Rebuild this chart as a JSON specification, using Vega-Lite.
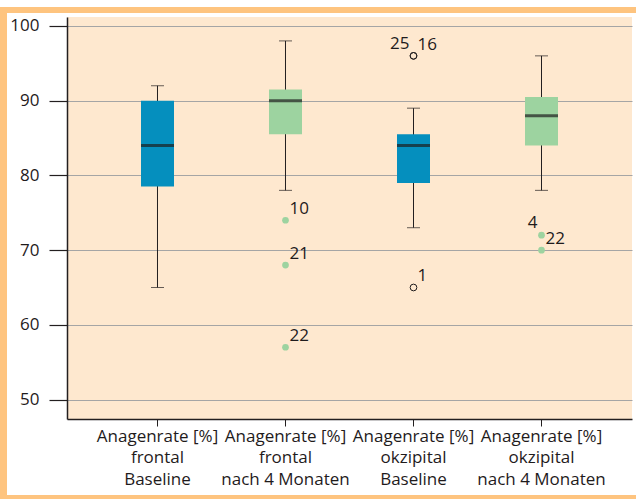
{
  "$schema": "https://vega.github.io/schema/vega-lite/v6.json",
  "background": "white",
  "padding": {"top": 7, "left": 0, "right": 0, "bottom": 0},
  "columns": 3,
  "spacing": 0,
  "bounds": "flush",
  "config": {
    "view": {"stroke": null},
    "axis": {"labelFont": "Open Sans", "labelFontSize": 17, "labelColor": "#1f1b1c"}
  },
  "datasets": {
    "boxes": [
      {"cat": "Anagenrate [%]\nfrontal\nBaseline", "zeit": "Baseline", "lo": 65, "q1": 78.5, "med": 84, "q3": 90, "hi": 92},
      {"cat": "Anagenrate [%]\nfrontal\nnach 4 Monaten", "zeit": "nach 4 Monaten", "lo": 78, "q1": 85.5, "med": 90, "q3": 91.5, "hi": 98},
      {"cat": "Anagenrate [%]\nokzipital\nBaseline", "zeit": "Baseline", "lo": 73, "q1": 79, "med": 84, "q3": 85.5, "hi": 89},
      {"cat": "Anagenrate [%]\nokzipital\nnach 4 Monaten", "zeit": "nach 4 Monaten", "lo": 78, "q1": 84, "med": 88, "q3": 90.5, "hi": 96}
    ],
    "outliers": [
      {"cat": "Anagenrate [%]\nfrontal\nnach 4 Monaten", "zeit": "nach 4 Monaten", "wert": 74, "fall": "10"},
      {"cat": "Anagenrate [%]\nfrontal\nnach 4 Monaten", "zeit": "nach 4 Monaten", "wert": 68, "fall": "21"},
      {"cat": "Anagenrate [%]\nfrontal\nnach 4 Monaten", "zeit": "nach 4 Monaten", "wert": 57, "fall": "22"},
      {"cat": "Anagenrate [%]\nokzipital\nBaseline", "zeit": "Baseline", "wert": 96, "fall": "25"},
      {"cat": "Anagenrate [%]\nokzipital\nBaseline", "zeit": "Baseline", "wert": 96, "fall": "16"},
      {"cat": "Anagenrate [%]\nokzipital\nBaseline", "zeit": "Baseline", "wert": 65, "fall": "1"},
      {"cat": "Anagenrate [%]\nokzipital\nnach 4 Monaten", "zeit": "nach 4 Monaten", "wert": 72, "fall": "4"},
      {"cat": "Anagenrate [%]\nokzipital\nnach 4 Monaten", "zeit": "nach 4 Monaten", "wert": 70, "fall": "22"}
    ]
  },
  "concat": [
    {"width": 7, "height": 6, "data": {"values": []}, "mark": "rect", "view": {"fill": "#fec47f"}},
    {"width": 60, "height": 6, "data": {"values": []}, "mark": "rect", "view": {"fill": "#fec47f"}},
    {"width": 569, "height": 6, "data": {"values": []}, "mark": "rect", "view": {"fill": "#fec47f"}},

    {"width": 7, "height": 4, "data": {"values": []}, "mark": "rect", "view": {"fill": "#fec47f"}},
    {"width": 60, "height": 4, "data": {"values": []}, "mark": "rect"},
    {"width": 569, "height": 4, "data": {"values": []}, "mark": "rect"},

    {"width": 7, "height": 402, "data": {"values": []}, "mark": "rect", "view": {"fill": "#fec47f"}},
    {"width": 60, "height": 402, "data": {"values": []}, "mark": "rect"},
    {
      "width": 565,
      "height": 402,
      "view": {"fill": "#fee8cf", "stroke": null},
      "encoding": {
        "x": {
          "field": "cat",
          "type": "nominal",
          "sort": null,
          "scale": {"paddingInner": 0, "paddingOuter": 0.207},
          "axis": {
            "title": null,
            "labelAngle": 0,
            "labelExpr": "split(datum.label, '\\n')",
            "labelLineHeight": 21.7,
            "labelPadding": 2,
            "domainColor": "#231f20",
            "domainWidth": 1.5,
            "tickColor": "#231f20",
            "tickSize": 7,
            "tickWidth": 1
          }
        }
      },
      "layer": [
        {
          "data": {"name": "boxes"},
          "mark": {"type": "rule", "color": "#231f20", "strokeWidth": 1},
          "encoding": {
            "y": {
              "field": "lo",
              "type": "quantitative",
              "title": null,
              "scale": {"domain": [47.4, 101.2], "nice": false, "zero": false},
              "axis": {
                "values": [50, 60, 70, 80, 90, 100],
                "domainColor": "#231f20",
                "domainWidth": 1.5,
                "tickColor": "#231f20",
                "tickSize": 18,
                "tickWidth": 1.2,
                "labelPadding": 10,
                "grid": true,
                "gridColor": "#a5a5a5",
                "gridWidth": 1.2
              }
            },
            "y2": {"field": "hi"}
          }
        },
        {
          "data": {"name": "boxes"},
          "mark": {"type": "tick", "color": "#231f20", "size": 13, "thickness": 1},
          "encoding": {"y": {"field": "lo", "type": "quantitative", "title": null}}
        },
        {
          "data": {"name": "boxes"},
          "mark": {"type": "tick", "color": "#231f20", "size": 13, "thickness": 1},
          "encoding": {"y": {"field": "hi", "type": "quantitative", "title": null}}
        },
        {
          "data": {"name": "boxes"},
          "mark": {"type": "bar", "size": 33},
          "encoding": {
            "y": {"field": "q1", "type": "quantitative", "title": null},
            "y2": {"field": "q3"},
            "color": {
              "field": "zeit",
              "type": "nominal",
              "scale": {"domain": ["Baseline", "nach 4 Monaten"], "range": ["#058fbe", "#9dd3a0"]},
              "legend": null
            }
          }
        },
        {
          "data": {"name": "boxes"},
          "mark": {"type": "tick", "color": "#1e1e1e", "size": 33, "thickness": 3},
          "encoding": {"y": {"field": "med", "type": "quantitative", "title": null}}
        },
        {
          "data": {"name": "outliers"},
          "transform": [{"filter": "datum.zeit == 'nach 4 Monaten'"}],
          "mark": {"type": "circle", "color": "#9dd3a0", "opacity": 1, "size": 45},
          "encoding": {"y": {"field": "wert", "type": "quantitative", "title": null}}
        },
        {
          "data": {"name": "outliers"},
          "transform": [{"filter": "datum.zeit == 'Baseline'"}],
          "mark": {"type": "point", "shape": "circle", "filled": false, "color": "#231f20", "strokeWidth": 1, "opacity": 1, "size": 45},
          "encoding": {"y": {"field": "wert", "type": "quantitative", "title": null}}
        },
        {
          "data": {"name": "outliers"},
          "transform": [{"filter": "datum.fall != '25' && datum.fall != '4'"}],
          "mark": {"type": "text", "align": "left", "baseline": "middle", "dx": 4, "dy": -11, "font": "Open Sans", "fontSize": 17, "color": "#1f1b1c"},
          "encoding": {
            "y": {"field": "wert", "type": "quantitative", "title": null},
            "text": {"field": "fall"}
          }
        },
        {
          "data": {"name": "outliers"},
          "transform": [{"filter": "datum.fall == '25' || datum.fall == '4'"}],
          "mark": {"type": "text", "align": "right", "baseline": "middle", "dx": -4, "dy": -12, "font": "Open Sans", "fontSize": 17, "color": "#1f1b1c"},
          "encoding": {
            "y": {"field": "wert", "type": "quantitative", "title": null},
            "text": {"field": "fall"}
          }
        }
      ]
    },

    {"width": 7, "height": 76, "data": {"values": []}, "mark": "rect", "view": {"fill": "#fec47f"}},
    {"width": 60, "height": 76, "data": {"values": []}, "mark": "rect"},
    {"width": 569, "height": 76, "data": {"values": []}, "mark": "rect"},

    {"width": 7, "height": 4, "data": {"values": []}, "mark": "rect", "view": {"fill": "#fec47f"}},
    {"width": 60, "height": 4, "data": {"values": []}, "mark": "rect", "view": {"fill": "#fec47f"}},
    {"width": 569, "height": 4, "data": {"values": []}, "mark": "rect", "view": {"fill": "#fec47f"}}
  ]
}
